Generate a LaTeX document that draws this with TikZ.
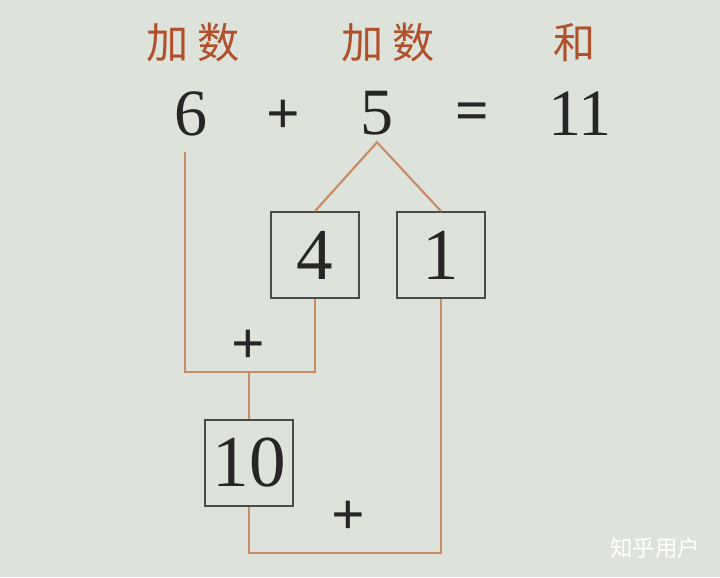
\documentclass[tikz,border=0pt]{standalone}
\usepackage{fontspec}
\setmainfont{Liberation Serif}
\newfontfamily\cjk{Noto Sans CJK SC}
\usetikzlibrary{positioning}
\definecolor{paper}{HTML}{DDE3DB}
\definecolor{redbrown}{HTML}{B0502C}
\definecolor{linkline}{HTML}{C98A66}
\definecolor{boxline}{HTML}{4A4A48}

\begin{document}
\begin{tikzpicture}[x=0.025cm,y=-0.025cm,
    numtext/.style={font=\fontsize{47}{47}\selectfont, text=black!85, inner sep=5pt},
    optext/.style={font=\bfseries\fontsize{42}{42}\selectfont, text=black!85},
    tag/.style={font=\cjk\fontsize{30}{30}\selectfont, text=redbrown},
    numbox/.style={draw=boxline, line width=1.2pt, minimum width=2.2cm, minimum height=2.15cm, inner sep=0pt, font=\fontsize{52}{52}\selectfont, text=black!85},
    link/.style={draw=linkline, line width=1.5pt}]

    % page
    \fill[paper] (0,0) rectangle (720,577);
    \useasboundingbox (0,0) rectangle (720,577);

    % names of the parts
    \node[tag] (tagA) at (193,43) {加\hspace{6pt}数};
    \node[tag] (tagB) at (388,43) {加\hspace{6pt}数};
    \node[tag] (tagC) at (575,43) {和};

    % the sum
    \node[numtext] (six) at (191,114) {6};
    \node[optext] (plusA) at (283,117) {+};
    \node[numtext] (five) at (377,113) {5};
    \node[optext] (equal) at (472,117) {=};
    \node[numtext] (eleven) at (580,114) {11};

    % 5 splits into 4 and 1
    \node[numbox] (four) at (315,255) {4};
    \node[numbox] (one) at (441,255) {1};
    \node[numbox] (ten) at (249,463) {10};
    \node[optext] (plusB) at (248,347) {+};
    \node[optext] (plusC) at (348,518) {+};

    \coordinate (join) at (249,372);
    \coordinate (floor) at (249,553);

    \draw[link] (four.north) -- (five.south) -- (one.north);
    \draw[link] ([xshift=-4pt,yshift=-6pt]six.south) |- (join) -| (four.south);
    \draw[link] (join) -- (ten.north);
    \draw[link] (ten.south) -- (floor) -| (one.south);

    % watermark
    \node[font=\cjk\fontsize{16}{16}\selectfont, text=white] (mark) at (655,548) {知乎用户};
\end{tikzpicture}
\end{document}
